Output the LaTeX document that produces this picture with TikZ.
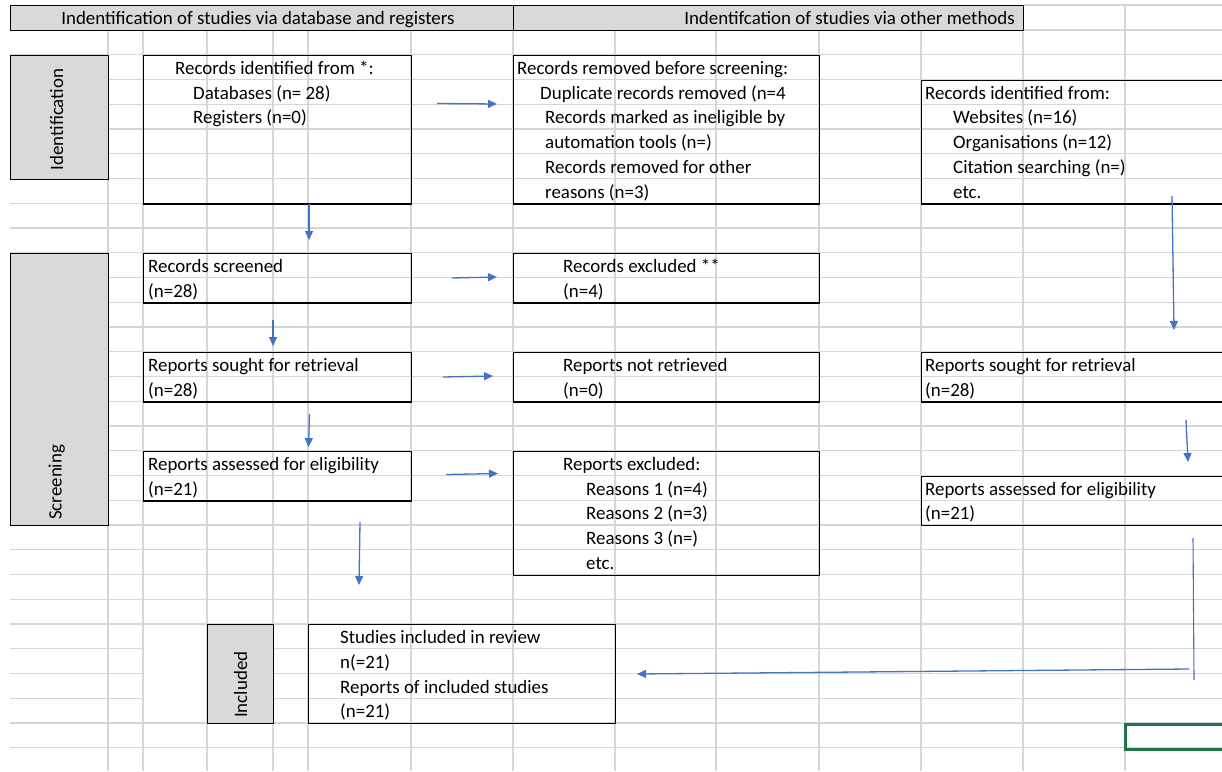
\documentclass[tikz,border=0pt]{standalone}
\usepackage{fontspec}
\setmainfont{Carlito}
\usetikzlibrary{arrows.meta}
\definecolor{xlgrid}{RGB}{214,214,214}
\definecolor{xlgray}{RGB}{217,217,217}
\definecolor{xlblue}{RGB}{68,114,196}
\definecolor{xlgreen}{RGB}{33,115,70}
\newcommand\txt[4]{\node[cell] (#1) at (#2,{30+24.75*#3+19.5}) {#4};}

\begin{document}
\begin{tikzpicture}[x=1pt,y=-1pt,
  font=\fontsize{18.9}{21}\selectfont,
  grid/.style={draw=xlgrid, line width=1.2pt},
  block/.style={draw, line width=1.3pt, anchor=north west, inner sep=0pt},
  side/.style={block, fill=xlgray},
  cell/.style={anchor=base west, inner sep=0pt},
  arrow/.style={draw=xlblue, line width=1.3pt, -{Triangle[length=9pt,width=8pt]}}
]
\useasboundingbox (0,0) rectangle (1222,771);
\clip (0,0) rectangle (1222,771);

% sheet grid
\foreach \k in {0,...,30}
  \draw[grid] (10,{30+24.75*\k}) -- (1222,{30+24.75*\k});
\draw[grid] (1023,5) -- (1222,5);
\foreach \x in {108,143,207,273,308,411,513,615,716,819,921,1023}
  \draw[grid] (\x,30) -- (\x,771);
\draw[grid] (1125,5) -- (1125,771);
\fill[white] (144,625.5) rectangle (206,722);

% headers
\node[side, minimum width=503pt, minimum height=25pt] (hdl) at (10,5) {};
\node[anchor=base, inner sep=0pt] (thl) at (258,24) {Indentification of studies via database and registers};
\node[side, minimum width=510pt, minimum height=25pt] (hdr) at (513,5) {};
\node[anchor=base east, inner sep=0pt] (thr) at (1015,24) {Indentifcation of studies via other methods};

% phases
\node[side, minimum width=98pt, minimum height=123.75pt] (phid) at (10,54.75) {};
\node[rotate=90, anchor=west] (tid) at ([xshift=-3pt,yshift=6pt]phid.south) {Identification};
\node[side, minimum width=98pt, minimum height=272.25pt] (phscr) at (10,252.75) {};
\node[rotate=90, anchor=west] (tscr) at ([xshift=-3pt,yshift=3pt]phscr.south) {Screening};
\node[side, minimum width=66pt, minimum height=99pt] (phinc) at (207,624) {};
\node[rotate=90, anchor=west] (tinc) at ([yshift=3pt]phinc.south) {Included};

% boxes
\node[block, minimum width=268pt, minimum height=148.5pt] (recid) at (143,54.75) {};
\node[block, minimum width=306pt, minimum height=148.5pt] (recrem) at (513,54.75) {};
\node[block, minimum width=320pt, minimum height=123.75pt] (othid) at (921,79.5) {};
\node[block, minimum width=268pt, minimum height=49.5pt] (recscr) at (143,252.75) {};
\node[block, minimum width=306pt, minimum height=49.5pt] (recexc) at (513,252.75) {};
\node[block, minimum width=268pt, minimum height=49.5pt] (repsou) at (143,351.75) {};
\node[block, minimum width=306pt, minimum height=49.5pt] (repnot) at (513,351.75) {};
\node[block, minimum width=320pt, minimum height=49.5pt] (othsou) at (921,351.75) {};
\node[block, minimum width=268pt, minimum height=49.5pt] (repass) at (143,450.75) {};
\node[block, minimum width=306pt, minimum height=123.75pt] (repexc) at (513,450.75) {};
\node[block, minimum width=320pt, minimum height=49.5pt] (othass) at (921,475.5) {};
\node[block, minimum width=307pt, minimum height=99pt] (incl) at (308,624) {};

% texts
\txt{a1}{175}{1}{Records identified from *:}
\txt{a2}{193}{2}{Databases (n= 28)}
\txt{a3}{193}{3}{Registers (n=0)}
\txt{b1}{517}{1}{Records removed before screening:}
\txt{b2}{540}{2}{Duplicate records removed (n=4}
\txt{b3}{545}{3}{Records marked as ineligible by}
\txt{b4}{545}{4}{automation tools (n=)}
\txt{b5}{545}{5}{Records removed for other}
\txt{b6}{545}{6}{reasons (n=3)}
\txt{c1}{925}{2}{Records identified from:}
\txt{c2}{953}{3}{Websites (n=16)}
\txt{c3}{953}{4}{Organisations (n=12)}
\txt{c4}{953}{5}{Citation searching (n=)}
\txt{c5}{953}{6}{etc.}
\txt{d1}{148}{9}{Records screened}
\txt{d2}{148}{10}{(n=28)}
\txt{e1}{563}{9}{Records excluded **}
\txt{e2}{563}{10}{(n=4)}
\txt{f1}{148}{13}{Reports sought for retrieval}
\txt{f2}{148}{14}{(n=28)}
\txt{g1}{563}{13}{Reports not retrieved}
\txt{g2}{563}{14}{(n=0)}
\txt{h1}{925}{13}{Reports sought for retrieval}
\txt{h2}{925}{14}{(n=28)}
\txt{i1}{148}{17}{Reports assessed for eligibility}
\txt{i2}{148}{18}{(n=21)}
\txt{j1}{563}{17}{Reports excluded:}
\txt{j2}{586}{18}{Reasons 1 (n=4)}
\txt{j3}{586}{19}{Reasons 2 (n=3)}
\txt{j4}{586}{20}{Reasons 3 (n=)}
\txt{j5}{586}{21}{etc.}
\txt{k1}{925}{18}{Reports assessed for eligibility}
\txt{k2}{925}{19}{(n=21)}
\txt{l1}{340}{24}{Studies included in review}
\txt{l2}{340}{25}{n(=21)}
\txt{l3}{340}{26}{Reports of included studies}
\txt{l4}{340}{27}{(n=21)}

% arrows
\coordinate (p1) at (437,103.5);  \coordinate (q1) at (497,104);
\coordinate (p2) at (309,203.5);  \coordinate (q2) at (309,240);
\coordinate (p3) at (452,278);    \coordinate (q3) at (497,277);
\coordinate (p4) at (273,320);    \coordinate (q4) at (273,346);
\coordinate (p5) at (443,377);    \coordinate (q5) at (493,376);
\coordinate (p6) at (309.5,414);  \coordinate (q6) at (308.5,447);
\coordinate (p7) at (446,474.5);  \coordinate (q7) at (498,473.5);
\coordinate (p8) at (360,522);    \coordinate (q8) at (359,585);
\coordinate (p9) at (1172,196);   \coordinate (q9) at (1174,330);
\coordinate (p10) at (1186,420);  \coordinate (q10) at (1188,462);
\coordinate (p11) at (1193,538);  \coordinate (q11) at (1194,680);
\coordinate (p12) at (1189,669);  \coordinate (q12) at (637,674);
\foreach \n in {1,...,10,12}
  \draw[arrow] (p\n) -- (q\n);
\draw[draw=xlblue, line width=1.1pt] (p11) -- (q11);

% selected cell
\node[draw=xlgreen, line width=3pt, anchor=north west, minimum width=104pt, minimum height=25pt, inner sep=0pt] (sel) at (1124,722.5) {};
\end{tikzpicture}
\end{document}
